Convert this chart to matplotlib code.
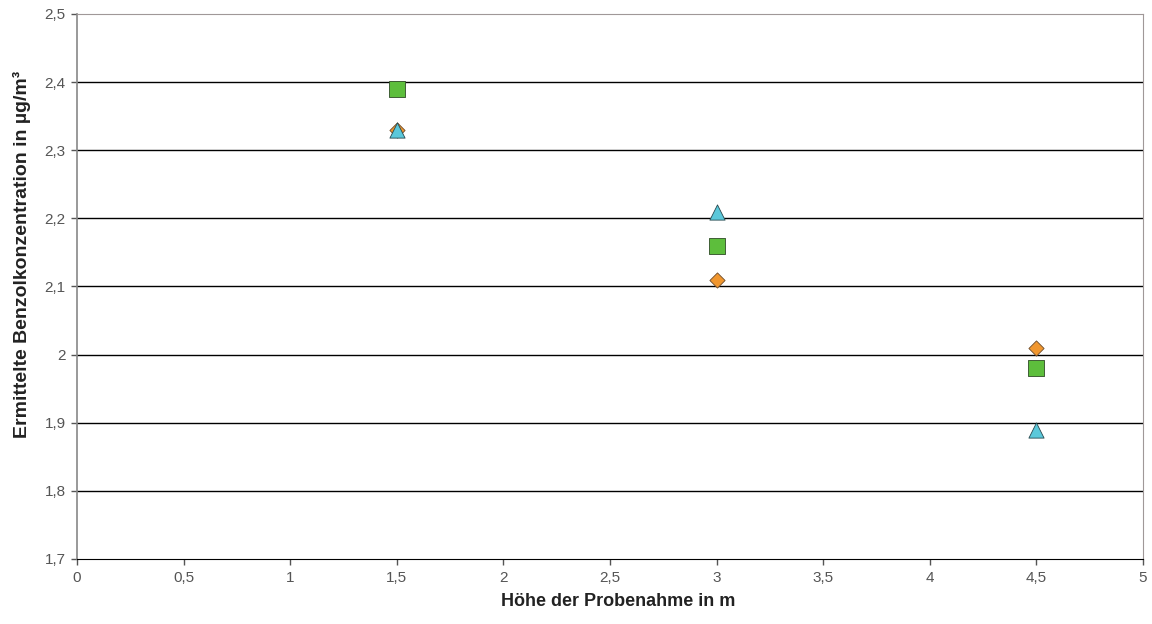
import matplotlib
matplotlib.use("Agg")
import matplotlib.pyplot as plt
from matplotlib.ticker import FuncFormatter

plt.rcParams['font.family'] = ['Liberation Sans', 'DejaVu Sans']

x_vals = [1.5, 3.0, 4.5]
diamond_vals = [2.33, 2.11, 2.01]
square_vals = [2.39, 2.16, 1.98]
triangle_vals = [2.33, 2.21, 1.89]

x_ticks = [0, 0.5, 1, 1.5, 2, 2.5, 3, 3.5, 4, 4.5, 5]
y_ticks = [1.7, 1.8, 1.9, 2.0, 2.1, 2.2, 2.3, 2.4, 2.5]

fig = plt.figure(figsize=(11.52, 6.24), dpi=100)
ax = fig.add_axes([0.0668, 0.1042, 0.9254, 0.8734])

for y in y_ticks[1:-1]:
    ax.axhline(y, color='black', lw=1, zorder=1)

ax.scatter(x_vals, diamond_vals, marker='D', s=60, color='#F0962E', edgecolor='#6b4a2a', lw=0.6, zorder=3)
ax.scatter(x_vals, square_vals, marker='s', s=120, color='#5DBE3C', edgecolor='#2e4a25', lw=0.6, zorder=3)
ax.scatter(x_vals, triangle_vals, marker='^', s=120, color='#5BC8DA', edgecolor='#27484f', lw=0.6, zorder=4)

ax.set_xlim(0, 5)
ax.set_ylim(1.7, 2.5)
ax.set_xticks(x_ticks)
ax.set_yticks(y_ticks)
fmt = FuncFormatter(lambda v, p: ('%g' % v).replace('.', ','))
ax.xaxis.set_major_formatter(fmt)
ax.yaxis.set_major_formatter(fmt)
ax.tick_params(axis='both', colors='#555555', labelsize=11, length=4, width=1, direction='out')
ax.tick_params(axis='x', pad=5, labelcolor='#555555')
ax.tick_params(axis='y', pad=4, labelcolor='#555555')

ax.spines['left'].set_color('#888888')
ax.spines['left'].set_linewidth(1.2)
ax.spines['top'].set_color('#a09898')
ax.spines['right'].set_color('#a09898')
ax.spines['bottom'].set_color('black')

ax.set_xlabel('Höhe der Probenahme in m', fontsize=13, fontweight='bold', color='#222222')
ax.set_ylabel('Ermittelte Benzolkonzentration in µg/m³', fontsize=14, fontweight='bold', color='#222222')
ax.xaxis.set_label_coords(0.5075, -0.062)
ax.yaxis.set_label_coords(-0.043, 0.558)

fig.savefig('out.png', dpi=100)
